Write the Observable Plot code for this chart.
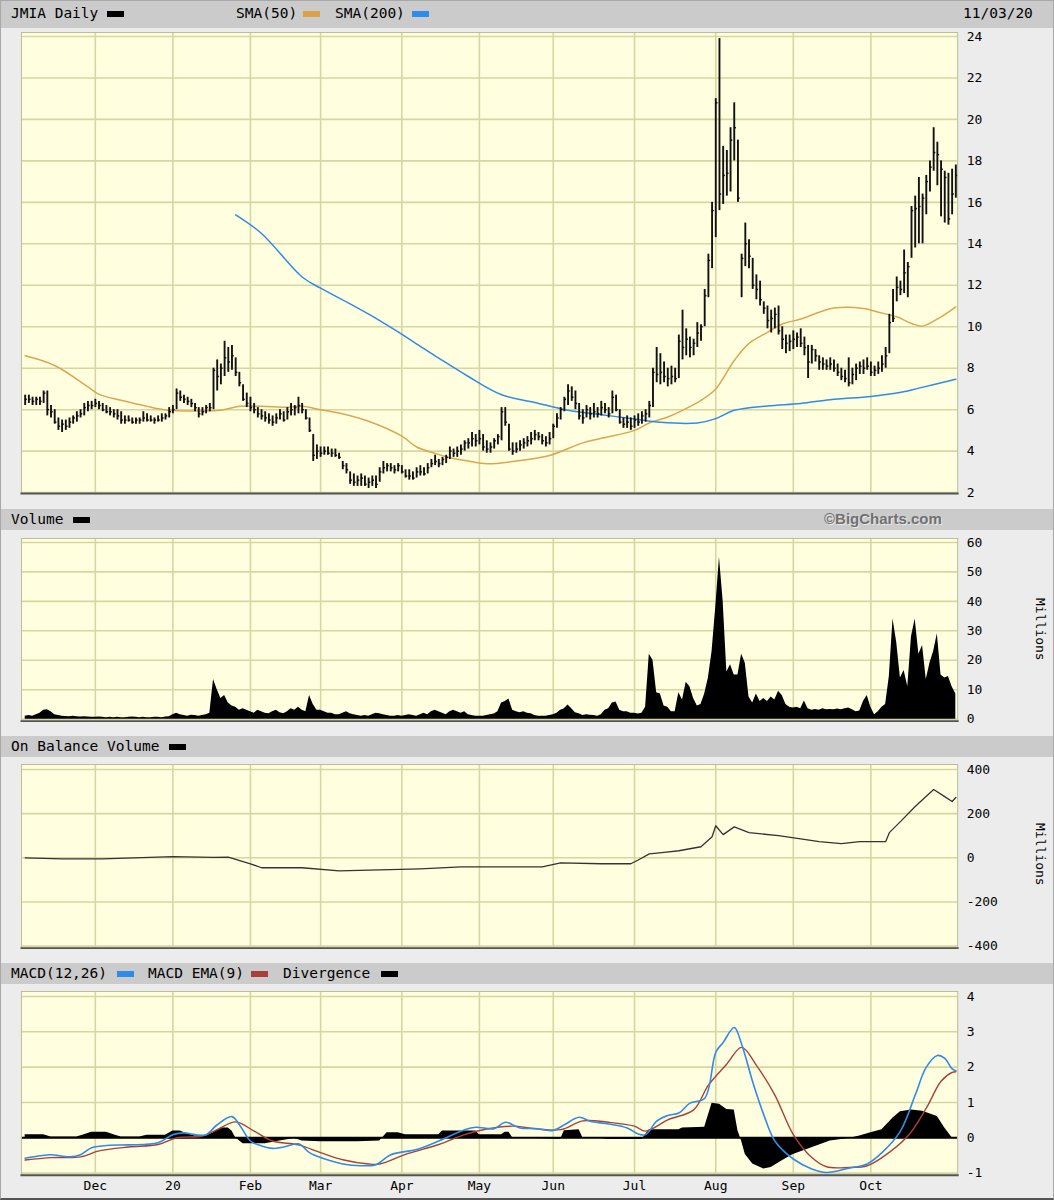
<!DOCTYPE html>
<html><head><meta charset="utf-8">
<script src="https://cdn.jsdelivr.net/npm/d3@7"></script>
<script src="https://cdn.jsdelivr.net/npm/@observablehq/plot@0.6"></script>
<style>
body{margin:0;background:#ececec;}
#wrap{position:relative;width:1054px;height:1200px;background:#ececec;overflow:hidden;box-sizing:border-box;border:1px solid #a8a8a8;border-bottom:2px solid #555;font-family:"DejaVu Sans Mono",monospace;}
.hdr{position:absolute;left:0;width:1054px;background:#cbcbcb;}
.t{position:absolute;font-size:14.5px;color:#000;white-space:nowrap;}
.sw{position:absolute;width:17px;height:6px;}
.panel{position:absolute;left:0;}
.mil{position:absolute;left:1032px;writing-mode:vertical-rl;font-size:13px;color:#000;}
.bc{position:absolute;font-family:"Liberation Sans",Arial,sans-serif;font-weight:bold;font-size:15px;color:#707070;text-shadow:1px 1px 0 #e8e8e8;}
</style></head>
<body>
<div id="wrap">
  <div class="hdr" style="top:0;height:27px;">
    <span class="t" style="left:10px;top:4px;">JMIA Daily</span><span class="sw" style="left:106px;top:10px;background:#000"></span>
    <span class="t" style="left:235px;top:4px;">SMA(50)</span><span class="sw" style="left:302px;top:10px;background:#d9a24a"></span>
    <span class="t" style="left:334px;top:4px;">SMA(200)</span><span class="sw" style="left:411px;top:10px;background:#2f8ae8"></span>
    <span class="t" style="left:962px;top:4px;">11/03/20</span>
  </div>
  <div class="hdr" style="top:508px;height:21px;">
    <span class="t" style="left:10px;top:2px;">Volume</span><span class="sw" style="left:72px;top:8px;background:#000"></span>
    <span class="bc" style="left:823px;top:1px;">©BigCharts.com</span>
  </div>
  <div class="hdr" style="top:735px;height:21px;">
    <span class="t" style="left:10px;top:2px;">On Balance Volume</span><span class="sw" style="left:168px;top:8px;background:#000"></span>
  </div>
  <div class="hdr" style="top:962px;height:21px;">
    <span class="t" style="left:10px;top:2px;">MACD(12,26)</span><span class="sw" style="left:116px;top:8px;background:#2f8ae8"></span>
    <span class="t" style="left:147px;top:2px;">MACD EMA(9)</span><span class="sw" style="left:250px;top:8px;background:#a8403a"></span>
    <span class="t" style="left:282px;top:2px;">Divergence</span><span class="sw" style="left:380px;top:8px;background:#000"></span>
  </div>
  <div id="p1" class="panel" style="top:28px"></div>
  <div id="p2" class="panel" style="top:530px"></div>
  <div id="p3" class="panel" style="top:757px"></div>
  <div id="p4" class="panel" style="top:984px"></div>
  <div class="mil" style="top:597px;">Millions</div>
  <div class="mil" style="top:822px;">Millions</div>
</div>
<script>
// ---- trading-day index axis (0 = first session, Nov 2019 ... 252 = 11/03/20)
const monthTicks  = [19, 40, 61, 80, 102, 123, 143, 165, 187, 208, 229];
const monthLabels = ["Dec","20","Feb","Mar","Apr","May","Jun","Jul","Aug","Sep","Oct"];

const priceTicks = [2,4,6,8,10,12,14,16,18,20,22,24];
const volTicks   = [0,10,20,30,40,50,60];
const obvTicks   = [-400,-200,0,200,400];
const macdTicks  = [-1,0,1,2,3,4];

// ---- daily price bars (high / low / close)
const hi = [
 6.7,6.7,6.6,6.6,6.6,6.9,6.9,6.2,6.0,5.6, 5.5,5.5,5.6,5.7,5.9,6.0,6.3,6.4,6.4,
 6.5,6.4,6.3,6.2,6.1,6.0,6.0,5.9,5.7,5.7,5.6,5.6,5.6,5.9,5.8,5.7,5.6,5.7,5.8,5.8,6.1,
 6.2,7.0,6.9,6.7,6.6,6.5,6.3,6.1,6.1,6.2,6.3,8.0,8.4,8.2,9.3,9.0,9.1,8.5,7.8,7.2,6.8,
 6.6,6.3,6.1,6.0,5.9,5.8,5.7,5.8,6.0,5.9,6.1,6.3,6.2,6.6,6.3,6.0,5.6,4.8,4.3,
 4.2,4.2,4.2,4.1,4.1,3.9,3.5,3.4,3.0,2.9,2.8,2.9,2.8,2.7,2.8,2.8,3.2,3.5,3.4,3.4,3.3,3.4,
 3.3,3.1,3.1,3.0,3.2,3.3,3.2,3.4,3.6,3.8,3.6,3.7,3.8,4.2,4.1,4.2,4.3,4.5,4.6,4.9,4.8,
 5.0,4.8,4.5,4.4,4.6,4.8,6.1,6.1,5.3,4.4,4.4,4.5,4.6,4.7,4.9,5.0,4.9,4.8,4.7,4.9,
 5.3,5.8,6.1,6.6,7.2,7.1,6.9,6.3,6.0,6.2,6.1,6.3,6.1,6.4,6.3,6.1,6.9,6.7,6.0,5.6,5.7,5.6,
 5.7,5.8,5.9,6.0,6.4,8.0,9.0,8.7,8.3,8.0,8.1,8.0,9.6,10.8,9.9,9.5,9.4,10.2,10.1,11.8,13.5,16.0,
 21.0,23.9,18.7,18.5,19.6,20.8,19.0,13.5,15.0,14.2,13.3,12.5,12.2,11.2,11.0,10.8,10.9,11.0,10.0,9.6,9.6,
 9.8,9.7,9.9,9.5,9.1,9.1,8.9,8.6,8.5,8.4,8.5,8.4,8.2,8.0,7.9,8.5,8.0,8.2,8.3,8.4,8.5,
 8.3,8.1,8.3,8.6,9.0,10.6,11.8,12.4,12.2,13.7,13.1,15.8,16.3,17.2,16.4,17.3,18.0,19.6,18.9,18.0,17.5,17.4,17.6,17.8
];
const lo = [
 6.2,6.3,6.2,6.2,6.2,6.3,5.7,5.6,5.3,5.0, 4.9,5.0,5.1,5.3,5.4,5.6,5.7,5.9,6.0,
 6.1,6.0,5.9,5.8,5.7,5.6,5.5,5.3,5.3,5.4,5.3,5.3,5.3,5.4,5.4,5.4,5.3,5.4,5.4,5.5,5.6,
 5.8,6.0,6.4,6.3,6.2,6.1,5.9,5.6,5.7,5.8,5.9,6.0,6.9,7.2,7.6,7.8,7.9,7.6,7.1,6.4,6.1,
 5.9,5.8,5.6,5.5,5.4,5.3,5.2,5.3,5.5,5.4,5.5,5.7,5.7,5.8,5.8,5.5,4.9,3.5,3.6,
 3.7,3.8,3.8,3.7,3.7,3.6,3.1,2.9,2.4,2.3,2.3,2.3,2.3,2.2,2.3,2.2,2.5,2.9,3.0,3.0,2.9,3.0,
 2.9,2.7,2.6,2.6,2.7,2.8,2.8,2.9,3.2,3.3,3.2,3.3,3.4,3.6,3.7,3.7,3.8,4.0,4.1,4.2,4.2,
 4.3,4.0,3.9,3.9,4.1,4.3,4.5,5.2,4.0,3.8,3.9,4.0,4.1,4.2,4.3,4.5,4.5,4.3,4.2,4.3,
 4.6,5.1,5.5,5.9,6.2,6.4,6.0,5.5,5.3,5.6,5.5,5.6,5.6,5.7,5.8,5.6,5.8,5.9,5.3,5.1,5.1,5.0,
 5.1,5.2,5.3,5.4,5.6,6.1,7.3,7.2,7.3,7.1,7.2,7.3,7.5,8.4,8.6,8.5,8.6,9.0,9.3,10.0,11.4,12.8,
 14.3,15.6,15.9,16.3,16.5,18.0,16.0,11.4,12.9,12.8,11.8,11.3,11.0,10.6,9.9,9.7,9.9,9.6,8.9,8.7,8.8,
 8.9,9.0,9.0,8.6,7.5,8.2,8.3,7.9,7.9,7.9,7.9,7.8,7.6,7.4,7.3,7.1,7.2,7.4,7.7,7.7,7.9,
 7.6,7.6,7.7,7.8,8.0,8.7,10.2,11.2,11.5,11.6,11.4,13.3,13.8,14.0,14.0,15.4,16.5,17.5,16.8,15.3,15.0,14.9,15.4,16.2
];
const cl = [
 6.5,6.5,6.4,6.5,6.4,6.8,6.0,5.9,5.4,5.2, 5.3,5.2,5.4,5.6,5.7,5.8,6.1,6.2,6.2,
 6.3,6.2,6.0,5.9,5.9,5.8,5.7,5.5,5.5,5.5,5.4,5.5,5.5,5.6,5.5,5.5,5.5,5.5,5.6,5.7,5.9,
 6.0,6.8,6.6,6.5,6.4,6.3,6.1,5.8,5.9,6.1,6.1,7.9,7.6,8.0,8.5,8.3,8.6,7.8,7.3,6.5,6.3,
 6.1,6.0,5.8,5.7,5.6,5.5,5.4,5.6,5.8,5.5,5.9,6.0,6.1,6.2,6.0,5.6,5.0,3.8,4.0,
 3.9,4.0,3.9,3.9,3.8,3.7,3.3,3.1,2.6,2.5,2.6,2.7,2.4,2.5,2.6,2.4,3.0,3.2,3.3,3.2,3.1,3.3,
 3.0,2.8,2.8,2.7,3.0,3.0,2.9,3.2,3.4,3.5,3.4,3.6,3.7,4.0,3.9,4.0,4.1,4.4,4.4,4.6,4.5,
 4.6,4.2,4.1,4.2,4.5,4.7,5.9,5.4,4.1,4.0,4.1,4.3,4.4,4.5,4.6,4.8,4.7,4.5,4.4,4.6,
 5.2,5.6,6.0,6.5,6.9,6.6,6.3,5.7,5.6,6.0,5.8,5.9,5.8,6.1,6.0,5.8,6.6,6.0,5.4,5.3,5.4,5.2,
 5.5,5.4,5.7,5.8,6.2,7.8,7.7,7.8,7.6,7.5,7.6,7.5,9.3,9.0,9.4,9.0,9.2,9.7,10.0,11.5,13.2,15.6,
 20.8,16.4,17.3,17.4,19.0,19.6,16.2,13.3,14.0,13.4,12.0,11.8,11.3,10.9,10.3,10.4,10.6,9.8,9.4,9.2,9.3,
 9.4,9.5,9.2,9.0,8.3,8.9,8.6,8.3,8.2,8.1,8.2,8.0,7.8,7.6,7.5,7.3,7.7,8.0,8.1,8.0,8.1,
 7.8,7.9,8.0,8.2,8.6,10.2,10.4,11.9,11.8,12.6,12.9,15.6,15.7,15.8,16.2,17.0,17.7,18.4,18.3,17.6,17.2,15.2,16.4,17.3
];

// ---- moving averages (sampled sessions)
const sma50Idx = [0,8,17,20,26,33,39,46,53,58,64,71,75,80,85,93,102,106,111,115,120,125,133,142,151,156,165,169,174,178,183,187,192,196,201,205,210,215,219,227,231,236,240,243,248,252];
const sma50    = [8.6,8.13,7.1,6.74,6.45,6.16,5.97,5.94,5.97,6.16,6.16,6.12,6.16,6.0,5.84,5.44,4.72,4.2,3.89,3.68,3.52,3.39,3.52,3.79,4.4,4.62,5.0,5.36,5.65,5.97,6.45,7.0,8.37,9.2,9.73,10.13,10.37,10.7,10.9,10.88,10.7,10.48,10.16,10.03,10.48,10.96];
const sma200Idx = [57,64,75,80,88,96,101,107,111,120,129,138,147,156,165,172,182,187,192,201,210,218,229,236,242,252];
const sma200    = [15.4,14.5,12.4,11.86,11.1,10.3,9.75,9.05,8.6,7.6,6.72,6.35,5.97,5.76,5.55,5.39,5.36,5.57,5.97,6.18,6.3,6.48,6.64,6.8,7.04,7.47];

// ---- daily volume, millions
const vol = [
 1.0,1.2,1.0,1.5,2.0,3.0,3.2,2.5,1.5,1.2, 1.0,0.9,0.8,1.0,0.8,0.7,0.8,0.7,0.6,
 0.6,0.7,0.6,0.5,0.6,0.5,0.6,0.5,0.5,0.6,0.7,0.6,0.5,0.6,0.5,0.5,0.6,0.6,0.5,0.7,0.8,
 1.5,2.0,1.5,1.2,1.0,1.3,1.2,1.0,1.2,1.5,2.0,13.5,10.0,7.0,8.0,5.5,4.5,4.0,3.0,3.5,3.0,
 2.5,2.0,3.0,2.5,2.0,1.8,2.5,3.0,2.2,1.8,2.5,3.5,3.0,4.0,3.0,2.5,8.0,5.0,3.0,
 3.0,2.5,2.0,2.0,1.5,1.5,2.0,2.5,1.8,1.5,1.2,1.0,1.2,1.0,1.5,2.0,1.8,1.5,1.2,1.0,1.0,1.2,
 1.0,1.2,1.5,1.2,1.0,1.5,2.0,1.5,2.5,3.0,2.5,2.0,1.5,2.5,3.0,2.5,2.0,2.5,1.5,1.2,1.0,
 1.0,1.0,1.2,1.5,1.7,2.5,5.5,6.0,6.8,3.0,2.5,2.2,2.5,2.0,1.8,1.2,1.0,1.0,1.0,1.2,
 1.5,2.0,3.0,3.5,4.8,3.5,2.2,1.8,1.2,1.5,1.3,1.2,1.0,1.5,3.0,3.5,5.5,5.8,3.0,2.5,2.5,2.0,
 2.0,1.7,2.0,4.0,22.0,20.0,9.0,8.5,4.5,4.0,2.5,2.5,9.0,6.5,12.5,11.0,7.0,4.5,5.0,8.5,14.0,23.0,
 38.0,55.0,40.0,16.0,18.5,15.0,15.0,22.0,19.0,7.5,5.5,8.5,6.0,7.0,6.0,7.5,6.5,9.5,8.0,5.0,4.0,
 3.8,4.0,3.5,6.2,3.5,3.0,3.3,3.0,3.5,3.2,3.3,3.2,3.4,3.2,3.5,3.8,3.2,2.5,2.8,6.0,8.0,
 4.0,1.5,2.5,4.0,5.0,14.5,34.0,26.0,14.0,16.5,11.0,28.0,34.0,22.0,25.0,13.5,19.0,23.0,29.0,15.0,14.0,14.5,11.0,8.5
];

// ---- on balance volume, millions (sampled sessions)
const obvIdx = [0,10,21,40,51,55,61,64,75,85,96,107,118,129,140,145,156,164,166,169,173,177,183,186,187,189,192,196,204,210,215,221,226,233,234,237,241,246,249,251,252];
const obv    = [0,-5,-5,5,2,3,-27,-45,-45,-59,-55,-50,-41,-41,-41,-23,-27,-27,-10,18,25,32,50,95,145,105,140,114,100,86,73,64,73,73,114,164,232,309,277,255,273];

// ---- MACD(12,26), EMA(9), divergence (sampled sessions)
const macdIdx = [0,4,7,12,15,18,23,28,36,40,43,46,49,52,56,58,61,64,67,70,74,77,80,86,91,95,99,106,112,119,122,127,130,134,138,143,146,150,153,158,163,166,168,171,174,177,180,184,187,189,192,194,197,200,203,208,213,217,223,228,232,237,241,244,247,249,251,252];
const macd    = [-0.58,-0.51,-0.48,-0.54,-0.48,-0.28,-0.21,-0.2,-0.14,0.09,0.14,0.09,0.09,0.37,0.6,0.37,-0.09,-0.23,-0.3,-0.26,-0.17,-0.42,-0.56,-0.74,-0.79,-0.76,-0.48,-0.33,-0.09,0.23,0.3,0.26,0.44,0.28,0.26,0.21,0.37,0.58,0.47,0.39,0.28,0.11,0.09,0.47,0.63,0.7,0.98,1.12,2.42,2.7,3.12,2.65,1.58,0.65,-0.09,-0.6,-0.88,-0.98,-0.86,-0.74,-0.42,0.19,1.21,2.0,2.33,2.25,1.95,1.9];
const emaIdx = [0,7,15,20,28,36,41,48,52,57,62,67,74,80,86,93,96,103,112,119,125,132,138,145,151,158,165,168,174,181,185,190,194,198,203,208,213,217,223,228,232,239,244,248,251,252];
const ema    = [-0.63,-0.56,-0.54,-0.37,-0.26,-0.19,0.0,0.05,0.23,0.45,0.19,-0.09,-0.2,-0.42,-0.62,-0.74,-0.74,-0.47,-0.19,0.09,0.25,0.33,0.26,0.23,0.48,0.44,0.33,0.19,0.51,0.79,1.49,2.09,2.56,2.05,1.21,0.09,-0.56,-0.82,-0.84,-0.79,-0.56,0.05,0.84,1.6,1.85,1.87];
const divIdx = [0,3,5,7,14,16,18,22,24,26,31,33,38,40,42,44,46,49,51,53,55,56,57,59,65,69,73,75,80,90,96,98,101,103,112,113,122,123,129,130,131,132,140,145,146,150,151,156,158,167,169,177,178,184,186,188,190,192,193,194,195,197,200,202,205,208,213,218,223,226,229,232,235,237,240,243,247,249,251,252];
const div    = [0.09,0.09,0.09,0.02,0.02,0.09,0.16,0.16,0.09,0.02,0.02,0.07,0.07,0.19,0.19,0.11,0.05,0.05,0.14,0.28,0.28,0.19,0.0,-0.17,-0.17,-0.09,-0.02,-0.09,-0.11,-0.11,-0.09,0.14,0.14,0.09,0.09,0.19,0.19,0.09,0.09,0.16,0.16,0.0,-0.03,-0.04,0.2,0.23,0.0,-0.02,-0.05,-0.05,0.23,0.23,0.28,0.3,0.98,0.95,0.8,0.79,0.2,-0.1,-0.47,-0.74,-0.88,-0.84,-0.65,-0.47,-0.28,-0.09,-0.02,0.05,0.14,0.23,0.56,0.74,0.79,0.75,0.6,0.28,0.0,0.0];

// ---- build tables
const bars = hi.map((h, k) => ({i: k, hi: h, lo: lo[k], c: cl[k]}));
const pairs = (idx, val) => idx.map((i, k) => ({i, v: val[k]}));
const volRows = vol.map((v, i) => ({i, v}));

const W = 1054, ML = 20, MR = 96;
const xDom = [-1, 252.5];
const GRID = "#d6d6a0", BG = "#ffffe0";
const FONT = {fontFamily: "DejaVu Sans Mono, monospace", fontSize: "13px", background: "transparent", color: "#000"};
const labelOf = new Map(monthTicks.map((t, k) => [t, monthLabels[k]]));

function base(ticks) {
  return [
    Plot.frame({fill: BG, stroke: "none"}),
    Plot.ruleX(monthTicks, {stroke: GRID, strokeWidth: 1.6}),
    Plot.ruleY(ticks, {stroke: GRID, strokeWidth: 1.6}),
    Plot.axisY({anchor: "right", ticks, tickFormat: d => String(d), tickSize: 0, tickPadding: 9, label: null})
  ];
}
function border() {
  return [
    Plot.frame({stroke: "#bdbd98", strokeWidth: 1}),
    Plot.frame({anchor: "bottom", stroke: "#555", strokeWidth: 2})
  ];
}

// price panel
document.getElementById("p1").append(Plot.plot({
  width: W, height: 480, marginLeft: ML, marginRight: MR, marginTop: 3, marginBottom: 15,
  style: FONT,
  x: {domain: xDom, axis: null},
  y: {domain: [2, 24], range: [464, 7], label: null},
  marks: [
    ...base(priceTicks),
    Plot.line(pairs(sma50Idx, sma50), {x: "i", y: "v", stroke: "#dca650", strokeWidth: 1.5, curve: "catmull-rom"}),
    Plot.line(pairs(sma200Idx, sma200), {x: "i", y: "v", stroke: "#2f8ae8", strokeWidth: 1.5, curve: "catmull-rom"}),
    Plot.ruleX(bars, {x: "i", y1: "lo", y2: "hi", stroke: "#111", strokeWidth: 1.9}),
    Plot.ruleY(bars, {y: "c", x1: "i", x2: d => d.i + 0.6, stroke: "#111", strokeWidth: 1.5}),
    ...border()
  ]
}));

// volume panel
document.getElementById("p2").append(Plot.plot({
  width: W, height: 198, marginLeft: ML, marginRight: MR, marginTop: 7, marginBottom: 8,
  style: FONT,
  x: {domain: xDom, axis: null},
  y: {domain: [0, 60], range: [188, 11], label: null},
  marks: [
    ...base(volTicks),
    Plot.areaY(volRows, {x: "i", y: "v", fill: "#000", curve: "linear"}),
    ...border()
  ]
}));

// OBV panel
document.getElementById("p3").append(Plot.plot({
  width: W, height: 198, marginLeft: ML, marginRight: MR, marginTop: 6, marginBottom: 8,
  style: FONT,
  x: {domain: xDom, axis: null},
  y: {domain: [-400, 400], range: [188, 11], label: null},
  marks: [
    ...base(obvTicks),
    Plot.line(pairs(obvIdx, obv), {x: "i", y: "v", stroke: "#333", strokeWidth: 1.3}),
    ...border()
  ]
}));

// MACD panel
document.getElementById("p4").append(Plot.plot({
  width: W, height: 214, marginLeft: ML, marginRight: MR, marginTop: 6, marginBottom: 24,
  style: FONT,
  x: {domain: xDom, label: null},
  y: {domain: [-1, 4], range: [188, 11], label: null},
  marks: [
    ...base(macdTicks),
    Plot.areaY(pairs(divIdx, div), {x: "i", y: "v", fill: "#000"}),
    Plot.ruleY([0], {stroke: "#000", strokeWidth: 2}),
    Plot.line(pairs(emaIdx, ema), {x: "i", y: "v", stroke: "#a8403a", strokeWidth: 1.4, curve: "catmull-rom"}),
    Plot.line(pairs(macdIdx, macd), {x: "i", y: "v", stroke: "#2f8ae8", strokeWidth: 1.6, curve: "catmull-rom"}),
    Plot.axisX({ticks: monthTicks, tickFormat: d => labelOf.get(d), tickSize: 0, tickPadding: 6, label: null}),
    ...border()
  ]
}));
</script>
</body></html>
